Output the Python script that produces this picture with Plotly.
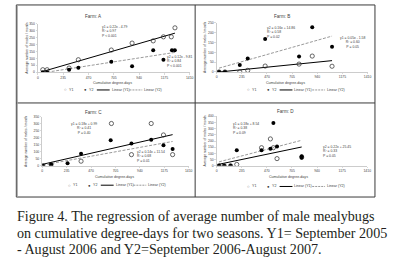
import numpy as np
import plotly.graph_objects as go

W, H = 417, 266

# ---------------- data ----------------
x_ticks = [0, 235, 470, 705, 940, 1175, 1410]

A_y1_x = [46, 86, 290, 376, 682, 875, 1071, 1166, 1239, 1273]
A_y1_y = [18, 18, 30, 90, 160, 210, 226, 255, 255, 320]
A_y2_x = [46, 86, 290, 376, 682, 875, 1071, 1166, 1245, 1272]
A_y2_y = [0, 0, 18, 32, 75, 43, 158, 90, 158, 158]
A_fit1 = [0.225, -4.79]
A_fit2 = [0.12, -9.81]

B_y1_x = [22, 77, 216, 290, 453, 770, 893, 1078]
B_y1_y = [0, 0, 0, 8, 30, 40, 81, 29]
B_y2_x = [22, 77, 216, 290, 453, 770, 893, 1078]
B_y2_y = [0, 0, 35, 69, 168, 79, 228, 129]
B_fit1 = [0.055, -1.58]
B_fit2 = [0.155, 16.0]

C_y1_x = [6, 86, 374, 666, 859, 1049, 1167, 1255]
C_y1_y = [0, 9, 33, 303, 80, 303, 221, 80]
C_y2_x = [6, 86, 244, 374, 659, 859, 1049, 1167, 1255]
C_y2_y = [0, 9, 19, 87, 183, 160, 186, 148, 120]
C_fit1 = [0.17, 10.0]
C_fit2 = [0.135, 5.0]

D_y1_x = [22, 71, 130, 188, 420, 503, 531, 565, 796]
D_y1_y = [0, 0, 0, 11, 146, 217, 146, 58, 70]
D_y2_x = [22, 71, 130, 188, 420, 503, 531, 565, 796, 796]
D_y2_y = [0, 0, 0, 125, 125, 138, 345, 156, 77, 66]
D_fit1 = [0.18, 8.54]
D_fit2 = [0.225, 27.0]

A_eq = ["y1 = 0.22x - 4.79<br>R² = 0.97<br>P < 0.001", "y2 = 0.12x - 9.81<br>R² = 0.84<br>P < 0.001"]
B_eq = ["y2 = 0.16x + 14.86<br>R² = 0.58<br>P = 0.02", "y1 = 0.05x - 1.58<br>R² = 0.60<br>P = 0.05"]
C_eq = ["y1 = 0.18x + 0.99<br>R² = 0.41<br>P = 0.40", "y2 = 0.14x + 11.54<br>R² = 0.68<br>P = 0.01"]
D_eq = ["y1 = 0.18x + 8.54<br>R² = 0.38<br>P = 0.09", "y2 = 0.22x + 25.45<br>R² = 0.33<br>P = 0.05"]

titles = ["Farm: A", "Farm: B", "Farm: C", "Farm: D"]
y_max = [350, 250, 350, 400]

caption = [
    "Figure 4. The regression of average number of male mealybugs",
    "on cumulative degree-days for two seasons. Y1= September 2005",
    "- August 2006 and Y2=September 2006-August 2007.",
]

# ---------------- layout helpers ----------------
def px(x):
    return x / W

def py(y):
    return 1 - y / H

panels = [
    dict(x1=A_y1_x, y1=A_y1_y, x2=A_y2_x, y2=A_y2_y, f1=A_fit1, f2=A_fit2, eq=A_eq,
         dom=(37.3, 191, 71.3, 22), tit=(94, 15), xt=(113, 82), yt=26,
         eqpos=[(101, 29.7, "left"), (167, 60.5, "left")], leg=(89.3, 63)),
    dict(x1=B_y1_x, y1=B_y1_y, x2=B_y2_x, y2=B_y2_y, f1=B_fit1, f2=B_fit2, eq=B_eq,
         dom=(218.3, 371, 71, 21.3), tit=(284, 15), xt=(288, 82), yt=207,
         eqpos=[(268, 31, "left"), (356, 41, "center")], leg=(89.3, 248)),
    dict(x1=C_y1_x, y1=C_y1_y, x2=C_y2_x, y2=C_y2_y, f1=C_fit1, f2=C_fit2, eq=C_eq,
         dom=(41.7, 190, 166.3, 116.7), tit=(94, 112), xt=(115, 178), yt=26,
         eqpos=[(84, 128.5, "center"), (137, 156.7, "left")], leg=(186, 67)),
    dict(x1=D_y1_x, y1=D_y1_y, x2=D_y2_x, y2=D_y2_y, f1=D_fit1, f2=D_fit2, eq=D_eq,
         dom=(218.3, 370.7, 166.3, 116), tit=(288, 111), xt=(291, 178), yt=207,
         eqpos=[(234, 128, "left"), (325, 151.7, "left")], leg=(187.3, 248)),
]

TXT = "#404040"
SANS = "Arial, Liberation Sans, sans-serif"

fig = go.Figure()
layout = dict(width=W, height=H, autosize=False, margin=dict(l=0, r=0, t=0, b=0),
              paper_bgcolor="white", plot_bgcolor="white", showlegend=False)
annotations = []
shapes = []

for i, p in enumerate(panels):
    k = "" if i == 0 else str(i + 1)
    xa, ya = "x" + k, "y" + k
    x0, x1, yb, yt_ = p["dom"]
    layout["xaxis" + k] = dict(domain=[px(x0), px(x1)], range=[0, 1410], tickvals=x_ticks,
                               showline=True, linecolor="#bfbfbf", linewidth=0.8,
                               ticks="outside", ticklen=1.5, tickcolor="#bfbfbf", tickwidth=0.6,
                               showgrid=False, zeroline=False, anchor=ya,
                               tickfont=dict(size=3.4, color=TXT, family=SANS), fixedrange=True)
    layout["yaxis" + k] = dict(domain=[py(yb), py(yt_)], range=[0, y_max[i]], dtick=50,
                               showline=True, linecolor="#bfbfbf", linewidth=0.8,
                               ticks="outside", ticklen=1.5, tickcolor="#bfbfbf", tickwidth=0.6,
                               showgrid=False, zeroline=False, anchor=xa,
                               tickfont=dict(size=3.4, color=TXT, family=SANS), fixedrange=True)

    # trend lines over data range
    for xs, f, dash, col, w in [(p["x1"], p["f1"], "solid", "#000000", 1.0),
                                (p["x2"], p["f2"], "dash", "#7f7f7f", 0.8)]:
        lx = np.array([min(xs), max(xs)], dtype=float)
        ly = f[0] * lx + f[1]
        fig.add_trace(go.Scatter(x=lx, y=ly, mode="lines", xaxis=xa, yaxis=ya,
                                 line=dict(color=col, width=w, dash="solid" if dash == "solid" else "3px,1.5px"),
                                 hoverinfo="skip"))
    # points
    fig.add_trace(go.Scatter(x=p["x1"], y=p["y1"], mode="markers", xaxis=xa, yaxis=ya,
                             marker=dict(symbol="circle-open", size=4.2, color="#262626",
                                         line=dict(width=0.7, color="#262626")), name="Y1"))
    fig.add_trace(go.Scatter(x=p["x2"], y=p["y2"], mode="markers", xaxis=xa, yaxis=ya,
                             marker=dict(symbol="circle", size=4.0, color="#000000"), name="Y2"))

    # titles
    annotations.append(dict(text=titles[i], x=px(p["tit"][0]), y=py(p["tit"][1]), xref="paper", yref="paper",
                            showarrow=False, font=dict(size=4.6, color=TXT, family=SANS),
                            xanchor="center", yanchor="middle"))
    annotations.append(dict(text="Cumulative degree-days", x=px(p["xt"][0]), y=py(p["xt"][1]),
                            xref="paper", yref="paper", showarrow=False,
                            font=dict(size=3.6, color=TXT, family=SANS), xanchor="center", yanchor="middle"))
    annotations.append(dict(text="Average number of males / month", x=px(p["yt"]),
                            y=py((yb + yt_) / 2), xref="paper", yref="paper", showarrow=False, textangle=-90,
                            font=dict(size=3.4, color=TXT, family=SANS), xanchor="center", yanchor="middle"))
    for (ex, ey, al), txt in zip(p["eqpos"], p["eq"]):
        annotations.append(dict(text=txt, x=px(ex), y=py(ey), xref="paper", yref="paper", showarrow=False,
                                align=al, xanchor=al, yanchor="middle", borderpad=0,
                                font=dict(size=3.4, color=TXT, family=SANS)))
    # legend (text + line samples)
    ly_, lx_ = p["leg"]
    items = [("○", 0), ("Y1", 5), ("●", 20), ("Y2", 25), ("Linear (Y1)", 48), ("Linear (Y2)", 81)]
    for t, off in items:
        annotations.append(dict(text=t, x=px(lx_ + off), y=py(ly_), xref="paper", yref="paper",
                                showarrow=False, xanchor="left", yanchor="middle", borderpad=0,
                                font=dict(size=3.6 if len(t) > 1 else 4.2, color=TXT, family=SANS)))
    shapes.append(dict(type="line", xref="paper", yref="paper", x0=px(lx_ + 34), x1=px(lx_ + 47),
                       y0=py(ly_), y1=py(ly_), line=dict(color="#000000", width=1.0)))
    shapes.append(dict(type="line", xref="paper", yref="paper", x0=px(lx_ + 67), x1=px(lx_ + 80),
                       y0=py(ly_), y1=py(ly_), line=dict(color="#7f7f7f", width=0.8, dash="2px,1px")))

# table frame
frame_col = "#3a3a3a"
shapes.append(dict(type="rect", xref="paper", yref="paper", x0=px(15.5), x1=px(378.5), y0=py(3), y1=py(198),
                   line=dict(color=frame_col, width=1)))
shapes.append(dict(type="line", xref="paper", yref="paper", x0=px(196.5), x1=px(196.5), y0=py(3), y1=py(198),
                   line=dict(color=frame_col, width=1)))
shapes.append(dict(type="line", xref="paper", yref="paper", x0=px(15.5), x1=px(378.5), y0=py(102.5), y1=py(102.5),
                   line=dict(color=frame_col, width=1)))
shapes.append(dict(type="line", xref="paper", yref="paper", x0=px(16.5), x1=px(16.5), y0=py(3), y1=py(198),
                   line=dict(color="#a0a0a0", width=1)))

# caption
for j, (line, yy) in enumerate(zip(caption, [217.7, 234.3, 251])):
    annotations.append(dict(text=line, x=px(15), y=py(yy), xref="paper", yref="paper", showarrow=False,
                            xanchor="left", yanchor="middle", borderpad=0,
                            font=dict(size=14.1, color="#231f20", family="Liberation Serif, Times New Roman, serif")))

layout["annotations"] = annotations
layout["shapes"] = shapes
fig.update_layout(**layout)
fig.write_html("out.html", config={"displayModeBar": False, "staticPlot": True},
               post_script="document.body.style.margin='0';document.body.style.overflow='hidden';")
